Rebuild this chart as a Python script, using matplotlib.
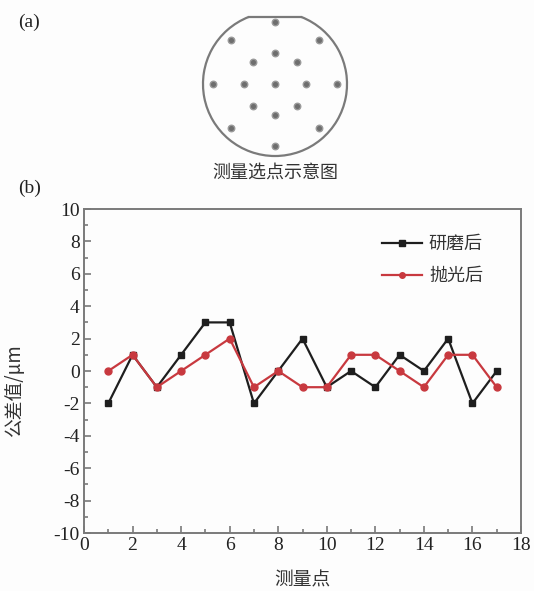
import numpy as np
import matplotlib.pyplot as plt
from matplotlib.patches import Arc

# measurement points 1..17
points = list(range(1, 18))
after_grinding = [-2, 1, -1, 1, 3, 3, -2, 0, 2, -1, 0, -1, 1, 0, 2, -2, 0]
after_polishing = [0, 1, -1, 0, 1, 2, -1, 0, -1, -1, 1, 1, 0, -1, 1, 1, -1]

# wafer sketch: centre point plus two rings of eight points
ring_radius = [0.0, 0.43, 0.86]
ring_count = [1, 8, 8]
flat_height = 0.93

plt.rcParams['axes.unicode_minus'] = False
serif = ['Liberation Serif', 'DejaVu Serif']
cjk = ['Noto Sans CJK SC', 'DejaVu Sans']
grey = '#7a7a7a'

W, H = 534, 591
fig = plt.figure(figsize=(W / 100, H / 100), dpi=100)
fig.patch.set_facecolor('#fdfdfd')

# ---- (a) wafer sketch
axw = fig.add_axes([195 / W, (H - 164) / H, 160 / W, 160 / H])
axw.set_xlim(-1.111, 1.111)
axw.set_ylim(-1.111, 1.111)
axw.set_aspect('equal')
axw.axis('off')
t0 = np.degrees(np.arcsin(flat_height))
axw.add_patch(Arc((0, 0), 2, 2, theta1=180 - t0, theta2=360 + t0,
                  color=grey, lw=1.6))
half = np.sqrt(1 - flat_height ** 2)
axw.plot([-half, half], [flat_height, flat_height], color=grey, lw=1.6)
xs, ys = [], []
for r, n in zip(ring_radius, ring_count):
    ang = np.radians(np.arange(n) * 360 / n)
    xs += list(r * np.cos(ang))
    ys += list(r * np.sin(ang))
axw.scatter(xs, ys, s=22, color='#6e6e6e', edgecolors='#9a9a9a', linewidths=1.0)

fig.text(275 / W, 1 - 173 / H, '测量选点示意图', family=cjk, fontsize=13,
         color='#333333', ha='center', va='center')
fig.text(18 / W, 1 - 22 / H, '(a)', family=serif, fontsize=14, color='#222222',
         va='center')
fig.text(18 / W, 1 - 188 / H, '(b)', family=serif, fontsize=14, color='#222222',
         va='center')

# ---- (b) tolerance chart
ax = fig.add_axes([84 / W, (H - 533) / H, (521 - 84) / W, (533 - 209) / H])
ax.set_facecolor('#fdfdfd')
ax.plot(points, after_grinding, color='#1e1e1e', lw=1.6, marker='s', ms=5,
        label='研磨后')
ax.plot(points, after_polishing, color='#c8393f', lw=1.6, marker='o', ms=5,
        label='抛光后')
ax.set_xlim(0, 18)
ax.set_ylim(-10, 10)
ax.set_xticks(range(0, 19, 2))
ax.set_xticks(range(1, 18, 2), minor=True)
ax.set_yticks(range(-10, 11, 2))
ax.set_yticks(range(-9, 10, 2), minor=True)
ax.tick_params(which='both', direction='in', color=grey, width=1.2,
               labelsize=14, labelcolor='#222222', pad=3)
ax.tick_params(which='major', length=5)
ax.tick_params(which='minor', length=3)
for lab in ax.get_xticklabels() + ax.get_yticklabels():
    lab.set_family(serif)
for s in ax.spines.values():
    s.set_color(grey)
    s.set_linewidth(1.4)

ax.set_xlabel('测量点', family=cjk, fontsize=13.5, color='#333333')
ax.set_ylabel('公差值/μm', family=cjk, fontsize=13.5, color='#333333')
ax.xaxis.set_label_coords(0.5, -0.112)
ax.yaxis.set_label_coords(-0.135, 0.44)

leg = ax.legend(loc='upper right', bbox_to_anchor=(0.95, 0.97), frameon=False,
                prop={'family': cjk, 'size': 13}, handlelength=2.2,
                labelspacing=0.8, handletextpad=0.4, markerscale=0.8)
for t in leg.get_texts():
    t.set_color('#333333')

fig.savefig('out.png', dpi=100, facecolor=fig.get_facecolor())
